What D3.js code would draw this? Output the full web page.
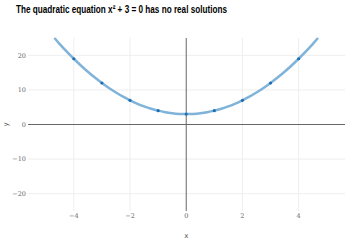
<!DOCTYPE html>
<html>
<head>
<meta charset="utf-8">
<script src="https://cdn.jsdelivr.net/npm/d3@7"></script>
<style>
  body { margin: 0; background: #fff; }
  svg { display: block; }
</style>
</head>
<body>
<div id="chart"></div>
<script>
const pointX = [-4, -3, -2, -1, 0, 1, 2, 3, 4];
const pointY = [19, 12, 7, 4, 3, 4, 7, 12, 19];
const curveX = [-4.69, -4.5, -4.25, -4, -3.75, -3.5, -3.25, -3, -2.75, -2.5, -2.25, -2, -1.75, -1.5, -1.25, -1, -0.75, -0.5, -0.25, 0,
  0.25, 0.5, 0.75, 1, 1.25, 1.5, 1.75, 2, 2.25, 2.5, 2.75, 3, 3.25, 3.5, 3.75, 4, 4.25, 4.5, 4.69];
const curveY = [25, 23.25, 21.06, 19, 17.06, 15.25, 13.56, 12, 10.56, 9.25, 8.06, 7, 6.06, 5.25, 4.56, 4, 3.56, 3.25, 3.06, 3,
  3.06, 3.25, 3.56, 4, 4.56, 5.25, 6.06, 7, 8.06, 9.25, 10.56, 12, 13.56, 15.25, 17.06, 19, 21.06, 23.25, 25];
const xTicks = [-4, -2, 0, 2, 4];
const yTicks = [-20, -10, 0, 10, 20];

const width = 350, height = 246;
const margin = { left: 28, right: 345, top: 38, bottom: 211 };

const svg = d3.select("#chart").append("svg")
  .attr("width", width)
  .attr("height", height);

const x = d3.scaleLinear().domain([-5.63, 5.65]).range([margin.left, margin.right]);
const y = d3.scaleLinear().domain([-25, 25]).range([margin.bottom, margin.top]);

// grid
svg.append("g")
  .selectAll("line")
  .data(xTicks.filter(d => d !== 0))
  .join("line")
  .attr("x1", d => x(d)).attr("x2", d => x(d))
  .attr("y1", margin.top).attr("y2", margin.bottom)
  .attr("stroke", "#eeeeee").attr("stroke-width", 1);

svg.append("g")
  .selectAll("line")
  .data(yTicks.filter(d => d !== 0))
  .join("line")
  .attr("x1", margin.left).attr("x2", margin.right)
  .attr("y1", d => y(d)).attr("y2", d => y(d))
  .attr("stroke", "#eeeeee").attr("stroke-width", 1);

// zero lines
svg.append("line")
  .attr("x1", margin.left).attr("x2", margin.right)
  .attr("y1", y(0)).attr("y2", y(0))
  .attr("stroke", "#666").attr("stroke-width", 1);
svg.append("line")
  .attr("x1", x(0)).attr("x2", x(0))
  .attr("y1", margin.top).attr("y2", margin.bottom)
  .attr("stroke", "#666").attr("stroke-width", 1);

const fmt = d => d3.format("d")(d).replace("-", "\u2212");

// tick labels
svg.append("g")
  .selectAll("text")
  .data(yTicks)
  .join("text")
  .attr("x", margin.left - 2)
  .attr("y", d => y(d))
  .attr("dy", "0.35em")
  .attr("text-anchor", "end")
  .attr("font-family", "DejaVu Serif")
  .attr("font-size", 6.5)
  .attr("fill", "#666")
  .text(fmt);

svg.append("g")
  .selectAll("text")
  .data(xTicks)
  .join("text")
  .attr("x", d => x(d))
  .attr("y", margin.bottom + 5)
  .attr("dy", "0.35em")
  .attr("text-anchor", "middle")
  .attr("font-family", "DejaVu Serif")
  .attr("font-size", 6.5)
  .attr("fill", "#666")
  .text(fmt);

// axis titles
svg.append("text")
  .attr("transform", `translate(6,${y(0)}) rotate(-90)`)
  .attr("text-anchor", "middle")
  .attr("dy", "0.35em")
  .attr("font-family", "DejaVu Sans")
  .attr("font-size", 7)
  .attr("fill", "#555")
  .text("y");

svg.append("text")
  .attr("x", x(0))
  .attr("y", 236)
  .attr("text-anchor", "middle")
  .attr("dy", "0.35em")
  .attr("font-family", "DejaVu Sans")
  .attr("font-size", 7)
  .attr("fill", "#555")
  .text("x");

// curve
const line = d3.line()
  .x((d, i) => x(curveX[i]))
  .y(d => y(d))
  .curve(d3.curveMonotoneX);

svg.append("path")
  .datum(curveY)
  .attr("d", line)
  .attr("fill", "none")
  .attr("stroke", "#7fb3d9")
  .attr("stroke-width", 2.5);

// points
svg.append("g")
  .selectAll("circle")
  .data(pointX)
  .join("circle")
  .attr("cx", d => x(d))
  .attr("cy", (d, i) => y(pointY[i]))
  .attr("r", 1.6)
  .attr("fill", "#1f6fb4");

// title
svg.append("text")
  .attr("x", 16)
  .attr("y", 13)
  .attr("font-family", "Liberation Sans, Arial, sans-serif")
  .attr("font-weight", "bold")
  .attr("font-size", 10.5)
  .attr("textLength", 211)
  .attr("lengthAdjust", "spacingAndGlyphs")
  .attr("fill", "#000")
  .text("The quadratic equation x\u00b2 + 3 = 0 has no real solutions");
</script>
</body>
</html>
